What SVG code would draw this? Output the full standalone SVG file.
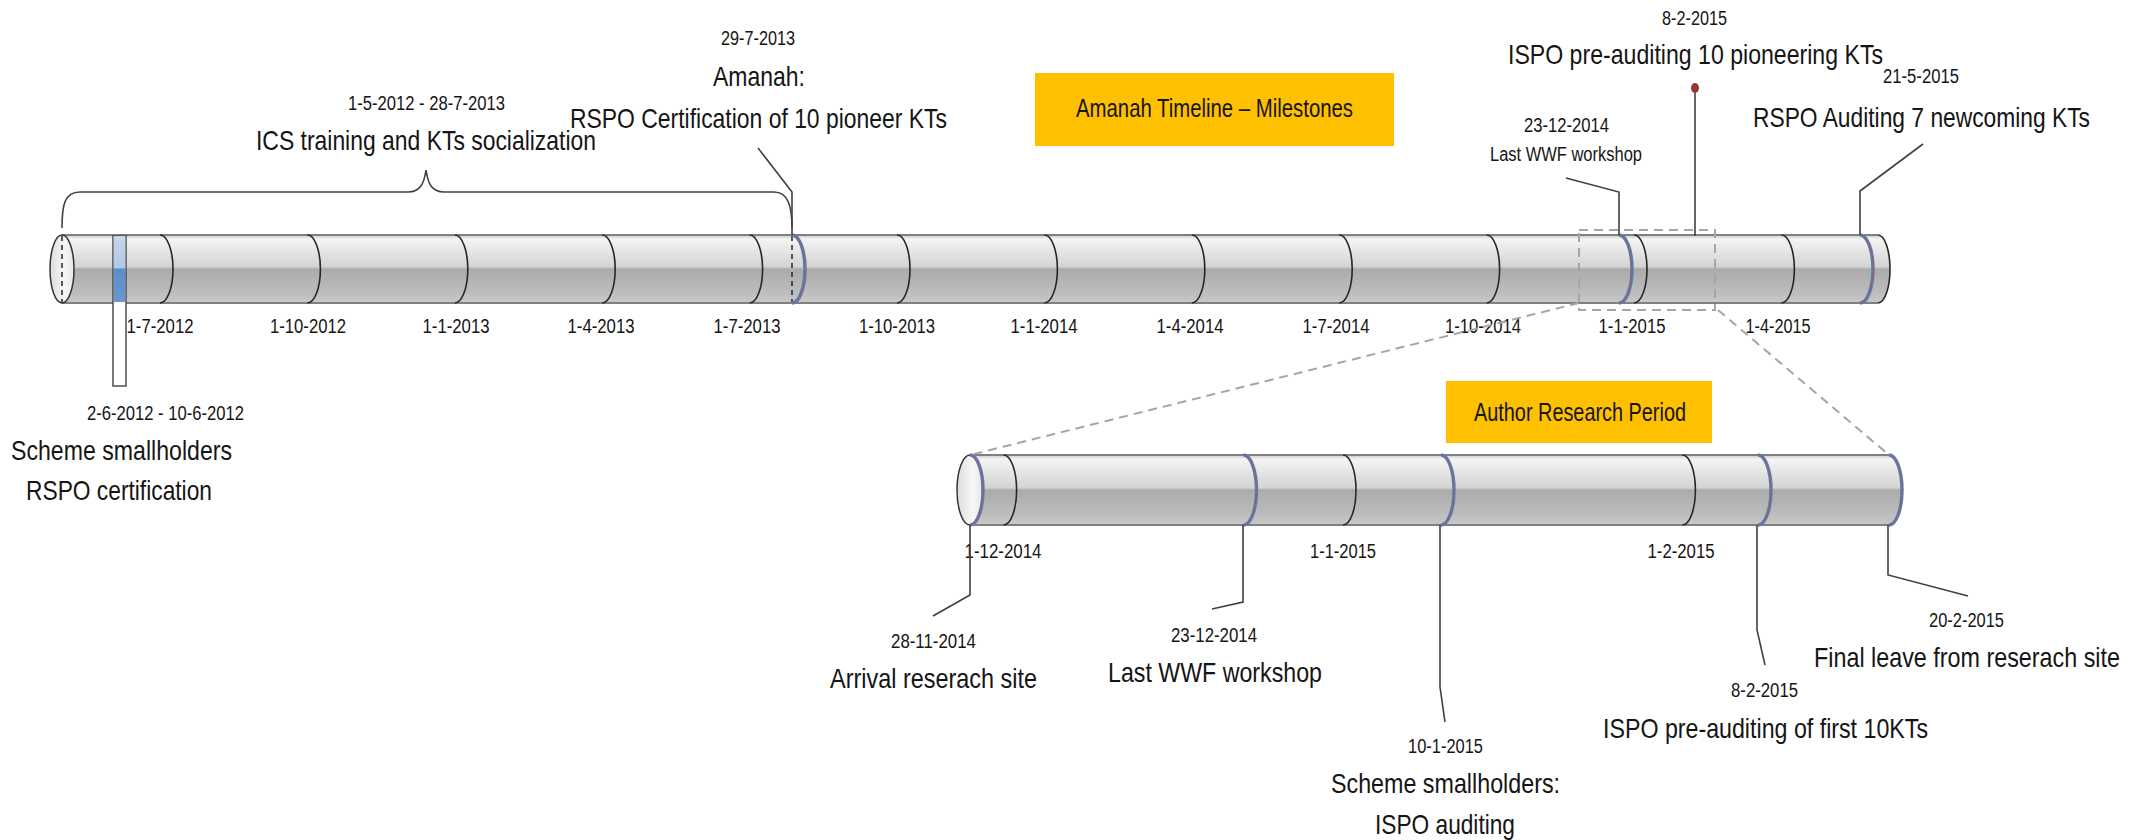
<svg xmlns="http://www.w3.org/2000/svg" width="2143" height="840" viewBox="0 0 2143 840">
  <defs>
    <linearGradient id="tubeGrad" x1="0" y1="0" x2="0" y2="1">
      <stop offset="0" stop-color="#c8c8c8"/>
      <stop offset="0.06" stop-color="#f4f4f4"/>
      <stop offset="0.47" stop-color="#d3d3d3"/>
      <stop offset="0.5" stop-color="#ababab"/>
      <stop offset="0.85" stop-color="#bdbdbd"/>
      <stop offset="1" stop-color="#c9c9c9"/>
    </linearGradient>
    <linearGradient id="capGrad" x1="0" y1="0" x2="1" y2="0">
      <stop offset="0" stop-color="#dcdcdc"/>
      <stop offset="0.6" stop-color="#f7f7f7"/>
      <stop offset="1" stop-color="#e6e6e6"/>
    </linearGradient>
    <linearGradient id="blueGrad" x1="0" y1="0" x2="0" y2="1">
      <stop offset="0" stop-color="#c6d7ec"/>
      <stop offset="0.48" stop-color="#b2c8e4"/>
      <stop offset="0.5" stop-color="#5b8dcc"/>
      <stop offset="1" stop-color="#6a97d0"/>
    </linearGradient>
  </defs>
  <style>
    text { font-family: "Liberation Sans", Arial, sans-serif; fill: #151515; }
    .date { font-size: 20px; }
    .lbl { font-size: 28px; }
    .small { font-size: 20px; }
    .boxlbl { font-size: 25px; }
    .tick { fill: none; stroke: #262626; stroke-width: 1.6; }
    .ms-blue { fill: none; stroke: #4f81bd; stroke-width: 3.5; }
    .ms-red { fill: none; stroke: #c0504d; stroke-width: 1; }
    .edge { stroke: #808080; stroke-width: 2; }
    .call { fill: none; stroke: #404040; stroke-width: 1.6; }
    .zoomline { fill: none; stroke: #a6a6a6; stroke-width: 2; stroke-dasharray: 9 6; }
    .hidden { stroke: #262626; stroke-width: 1.5; stroke-dasharray: 5 4; }
    .banner { fill: #ffc000; }
  </style>

  <!-- ===== Main timeline cylinder 2012-2015 ===== -->
  <g id="main-timeline">
    <path d="M62,235 L1878,235 A12,34 0 0 1 1878,303 L62,303 A12,34 0 0 1 62,235 Z" fill="url(#tubeGrad)"/>
    <line class="edge" x1="62" y1="235" x2="1878" y2="235"/>
    <line class="edge" x1="62" y1="303" x2="1878" y2="303"/>
    <path class="tick" d="M1878,235 A12,34 0 0 1 1878,303" stroke="#606060"/>
    <!-- quarterly ticks -->
    <path class="tick" d="M160,235 A13,34 0 0 1 160,303"/>
    <path class="tick" d="M307.4,235 A13,34 0 0 1 307.4,303"/>
    <path class="tick" d="M454.8,235 A13,34 0 0 1 454.8,303"/>
    <path class="tick" d="M602.2,235 A13,34 0 0 1 602.2,303"/>
    <path class="tick" d="M749.6,235 A13,34 0 0 1 749.6,303"/>
    <path class="tick" d="M897,235 A13,34 0 0 1 897,303"/>
    <path class="tick" d="M1044.4,235 A13,34 0 0 1 1044.4,303"/>
    <path class="tick" d="M1191.8,235 A13,34 0 0 1 1191.8,303"/>
    <path class="tick" d="M1339.2,235 A13,34 0 0 1 1339.2,303"/>
    <path class="tick" d="M1486.6,235 A13,34 0 0 1 1486.6,303"/>
    <path class="tick" d="M1634,235 A13,34 0 0 1 1634,303"/>
    <path class="tick" d="M1781.4,235 A13,34 0 0 1 1781.4,303"/>
    <!-- milestone rings -->
    <line class="hidden" x1="792" y1="236" x2="792" y2="302"/>
    <path class="ms-blue" d="M792,235 A13,34 0 0 1 792,303"/>
    <path class="ms-red" d="M792,235 A13,34 0 0 1 792,303"/>
    <path class="ms-blue" d="M1619,235 A13,34 0 0 1 1619,303"/>
    <path class="ms-red" d="M1619,235 A13,34 0 0 1 1619,303"/>
    <path class="ms-blue" d="M1860,235 A13,34 0 0 1 1860,303"/>
    <path class="ms-red" d="M1860,235 A13,34 0 0 1 1860,303"/>
    <!-- near end cap -->
    <ellipse cx="62" cy="269" rx="12" ry="34" fill="url(#capGrad)" stroke="#333" stroke-width="1.5"/>
    <line class="hidden" x1="62" y1="236" x2="62" y2="302"/>
    <!-- quarter labels -->
    <text class="date" x="160" y="333" text-anchor="middle" textLength="67" lengthAdjust="spacingAndGlyphs">1-7-2012</text>
    <text class="date" x="308" y="333" text-anchor="middle" textLength="76" lengthAdjust="spacingAndGlyphs">1-10-2012</text>
    <text class="date" x="456" y="333" text-anchor="middle" textLength="67" lengthAdjust="spacingAndGlyphs">1-1-2013</text>
    <text class="date" x="601" y="333" text-anchor="middle" textLength="67" lengthAdjust="spacingAndGlyphs">1-4-2013</text>
    <text class="date" x="747" y="333" text-anchor="middle" textLength="67" lengthAdjust="spacingAndGlyphs">1-7-2013</text>
    <text class="date" x="897" y="333" text-anchor="middle" textLength="76" lengthAdjust="spacingAndGlyphs">1-10-2013</text>
    <text class="date" x="1044" y="333" text-anchor="middle" textLength="67" lengthAdjust="spacingAndGlyphs">1-1-2014</text>
    <text class="date" x="1190" y="333" text-anchor="middle" textLength="67" lengthAdjust="spacingAndGlyphs">1-4-2014</text>
    <text class="date" x="1336" y="333" text-anchor="middle" textLength="67" lengthAdjust="spacingAndGlyphs">1-7-2014</text>
    <text class="date" x="1483" y="333" text-anchor="middle" textLength="76" lengthAdjust="spacingAndGlyphs">1-10-2014</text>
    <text class="date" x="1632" y="333" text-anchor="middle" textLength="67" lengthAdjust="spacingAndGlyphs">1-1-2015</text>
    <text class="date" x="1778" y="333" text-anchor="middle" textLength="65" lengthAdjust="spacingAndGlyphs">1-4-2015</text>
  </g>

  <!-- ===== Title banner ===== -->
  <g id="title-banner">
    <rect class="banner" x="1035" y="73" width="359" height="73"/>
    <text class="boxlbl" x="1076" y="117" textLength="277" lengthAdjust="spacingAndGlyphs">Amanah Timeline – Milestones</text>
  </g>

  <!-- ===== Scheme smallholders RSPO certification (2-6-2012 to 10-6-2012) ===== -->
  <g id="scheme-rspo">
    <rect x="113" y="236" width="13" height="150" fill="#ffffff" stroke="#404040" stroke-width="1.4"/>
    <rect x="113.7" y="236" width="11.6" height="66" fill="url(#blueGrad)"/>
    <text class="date" x="87" y="420" textLength="157" lengthAdjust="spacingAndGlyphs">2-6-2012 - 10-6-2012</text>
    <text class="lbl" x="11" y="460" textLength="221" lengthAdjust="spacingAndGlyphs">Scheme smallholders</text>
    <text class="lbl" x="26" y="500" textLength="186" lengthAdjust="spacingAndGlyphs">RSPO certification</text>
  </g>

  <!-- ===== ICS training period brace ===== -->
  <g id="ics-training">
    <path class="call" d="M62,228 C62,206 64,192 80,192 L408,192 C420,192 424,184 426,170 C428,184 432,192 444,192 L774,192 C788,192 792,206 792,228"/>
    <text class="date" x="348" y="110" textLength="157" lengthAdjust="spacingAndGlyphs">1-5-2012 - 28-7-2013</text>
    <text class="lbl" x="256" y="150" textLength="340" lengthAdjust="spacingAndGlyphs">ICS training and KTs socialization</text>
  </g>

  <!-- ===== RSPO certification of pioneer KTs ===== -->
  <g id="amanah-rspo">
    <text class="date" x="721" y="45" textLength="74" lengthAdjust="spacingAndGlyphs">29-7-2013</text>
    <text class="lbl" x="713" y="86" textLength="92" lengthAdjust="spacingAndGlyphs">Amanah:</text>
    <text class="lbl" x="570" y="128" textLength="377" lengthAdjust="spacingAndGlyphs">RSPO Certification of 10 pioneer KTs</text>
  </g>

  <!-- ===== Last WWF workshop (upper) ===== -->
  <g id="wwf-upper">
    <text class="date" x="1524" y="132" textLength="85" lengthAdjust="spacingAndGlyphs">23-12-2014</text>
    <text class="small" x="1490" y="161" textLength="152" lengthAdjust="spacingAndGlyphs">Last WWF workshop</text>
  </g>

  <!-- ===== ISPO pre-auditing (upper) ===== -->
  <g id="ispo-upper">
    <text class="date" x="1662" y="25" textLength="65" lengthAdjust="spacingAndGlyphs">8-2-2015</text>
    <text class="lbl" x="1508" y="64" textLength="375" lengthAdjust="spacingAndGlyphs">ISPO pre-auditing 10 pioneering KTs</text>
  </g>

  <!-- ===== RSPO auditing newcoming KTs ===== -->
  <g id="rspo-newcoming">
    <text class="date" x="1883" y="83" textLength="76" lengthAdjust="spacingAndGlyphs">21-5-2015</text>
    <text class="lbl" x="1753" y="127" textLength="337" lengthAdjust="spacingAndGlyphs">RSPO Auditing 7 newcoming KTs</text>
  </g>

  <!-- ===== Research period detail cylinder ===== -->
  <g id="research-timeline">
    <path d="M970,455 L1889,455 A13,35 0 0 1 1889,525 L970,525 A13,35 0 0 1 970,455 Z" fill="url(#tubeGrad)"/>
    <line class="edge" x1="970" y1="455" x2="1889" y2="455"/>
    <line class="edge" x1="970" y1="525" x2="1889" y2="525"/>
    <path class="tick" d="M1003.6,455 A13,35 0 0 1 1003.6,525"/>
    <path class="tick" d="M1343,455 A13,35 0 0 1 1343,525"/>
    <path class="tick" d="M1682.4,455 A13,35 0 0 1 1682.4,525"/>
    <ellipse cx="970" cy="490" rx="13" ry="35" fill="url(#capGrad)" stroke="#333" stroke-width="1.5"/>
    <path class="ms-blue" d="M970,455 A13,35 0 0 1 970,525"/>
    <path class="ms-red" d="M970,455 A13,35 0 0 1 970,525"/>
    <path class="ms-blue" d="M1243.5,455 A13,35 0 0 1 1243.5,525"/>
    <path class="ms-red" d="M1243.5,455 A13,35 0 0 1 1243.5,525"/>
    <path class="ms-blue" d="M1441,455 A13,35 0 0 1 1441,525"/>
    <path class="ms-red" d="M1441,455 A13,35 0 0 1 1441,525"/>
    <path class="ms-blue" d="M1758,455 A13,35 0 0 1 1758,525"/>
    <path class="ms-red" d="M1758,455 A13,35 0 0 1 1758,525"/>
    <path class="ms-blue" d="M1889,455 A13,35 0 0 1 1889,525"/>
    <path class="ms-red" d="M1889,455 A13,35 0 0 1 1889,525"/>
    <text class="date" x="1003" y="558" text-anchor="middle" textLength="77" lengthAdjust="spacingAndGlyphs">1-12-2014</text>
    <text class="date" x="1343" y="558" text-anchor="middle" textLength="66" lengthAdjust="spacingAndGlyphs">1-1-2015</text>
    <text class="date" x="1681" y="558" text-anchor="middle" textLength="67" lengthAdjust="spacingAndGlyphs">1-2-2015</text>
  </g>

  <!-- ===== Research period banner ===== -->
  <g id="research-banner">
    <rect class="banner" x="1446" y="381" width="266" height="62"/>
    <text class="boxlbl" x="1474" y="421" textLength="212" lengthAdjust="spacingAndGlyphs">Author Research Period</text>
  </g>

  <g id="arrival">
    <text class="date" x="891" y="648" textLength="85" lengthAdjust="spacingAndGlyphs">28-11-2014</text>
    <text class="lbl" x="830" y="688" textLength="207" lengthAdjust="spacingAndGlyphs">Arrival reserach site</text>
  </g>

  <g id="wwf-lower">
    <text class="date" x="1171" y="642" textLength="86" lengthAdjust="spacingAndGlyphs">23-12-2014</text>
    <text class="lbl" x="1108" y="682" textLength="214" lengthAdjust="spacingAndGlyphs">Last WWF workshop</text>
  </g>

  <g id="ispo-scheme">
    <text class="date" x="1408" y="753" textLength="75" lengthAdjust="spacingAndGlyphs">10-1-2015</text>
    <text class="lbl" x="1331" y="793" textLength="229" lengthAdjust="spacingAndGlyphs">Scheme smallholders:</text>
    <text class="lbl" x="1375" y="834" textLength="140" lengthAdjust="spacingAndGlyphs">ISPO auditing</text>
  </g>

  <g id="ispo-lower">
    <text class="date" x="1731" y="697" textLength="67" lengthAdjust="spacingAndGlyphs">8-2-2015</text>
    <text class="lbl" x="1603" y="738" textLength="325" lengthAdjust="spacingAndGlyphs">ISPO pre-auditing of first 10KTs</text>
  </g>

  <g id="final-leave">
    <text class="date" x="1929" y="627" textLength="75" lengthAdjust="spacingAndGlyphs">20-2-2015</text>
    <text class="lbl" x="1814" y="667" textLength="306" lengthAdjust="spacingAndGlyphs">Final leave from reserach site</text>
  </g>

  <!-- ===== Connectors: callouts, pin and zoom guides ===== -->
  <g id="connectors">
    <polyline class="call" points="758,148 792,192 792,235"/>
    <polyline class="call" points="1566,178 1619,192 1619,235"/>
    <polyline class="call" points="1923,144 1860,191 1860,235"/>
    <line class="call" x1="1695" y1="90" x2="1695" y2="236"/>
    <ellipse cx="1695" cy="88" rx="4" ry="5" fill="#943634"/>
    <rect class="zoomline" x="1579" y="230" width="136" height="80"/>
    <line class="zoomline" x1="1579" y1="303" x2="970" y2="455"/>
    <line class="zoomline" x1="1718" y1="310" x2="1889" y2="455"/>
    <polyline class="call" points="970,525 970,595 933,616"/>
    <polyline class="call" points="1243,525 1243,602 1212,609"/>
    <polyline class="call" points="1440,525 1440,687 1445,722"/>
    <polyline class="call" points="1757,525 1757,630 1765,665"/>
    <polyline class="call" points="1888,525 1888,575 1968,596"/>
  </g>
</svg>
